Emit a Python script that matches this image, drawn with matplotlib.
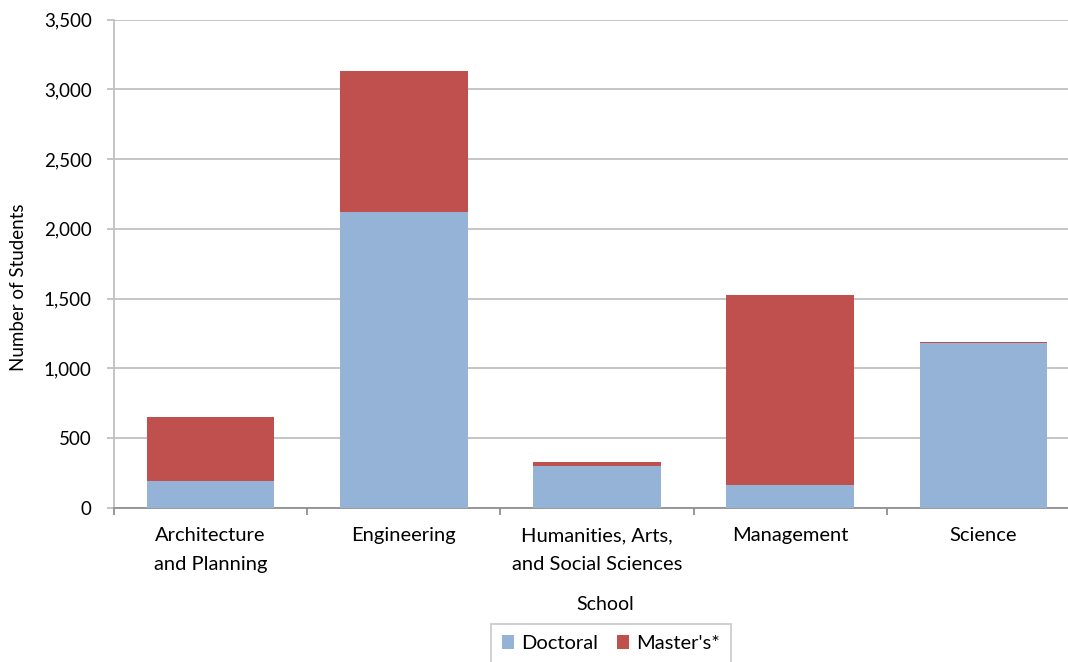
import matplotlib
matplotlib.use("Agg")
import matplotlib.pyplot as plt
from matplotlib.ticker import FuncFormatter, FixedLocator
from matplotlib.patches import Patch
import numpy as np

schools = ["Architecture\nand Planning", "Engineering", "Humanities, Arts,\nand Social Sciences", "Management", "Science"]
doctoral = [195, 2120, 303, 165, 1180]
masters = [457, 1010, 27, 1361, 12]
yticks = [0, 500, 1000, 1500, 2000, 2500, 3000, 3500]

plt.rcParams['font.family'] = ['Lato', 'DejaVu Sans']
W, H = 1068, 662
fig = plt.figure(figsize=(W/100, H/100), dpi=100)
ax = fig.add_axes([114/W, 1 - 508/H, (1080-114)/W, (508-19.5)/H])

x = np.arange(len(schools))
blue = "#95B3D7"
red = "#C0504D"
ax.bar(x, doctoral, width=0.66, color=blue, label="Doctoral", zorder=3)
ax.bar(x, masters, width=0.66, bottom=doctoral, color=red, label="Master's*", zorder=3)

ax.set_xlim(-0.5, len(schools) - 0.5)
ax.set_ylim(0, 3500)
ax.set_yticks(yticks)
ax.yaxis.set_major_formatter(FuncFormatter(lambda v, p: f"{int(v):,}"))
ax.grid(axis='y', color='#c0c0c0', linewidth=1.3, zorder=0)
ax.set_axisbelow(True)

ax.set_xticks(x)
ax.set_xticklabels(schools, fontsize=14.5, linespacing=1.8)
ax.tick_params(axis='x', which='major', length=0, pad=14)
ax.xaxis.set_minor_locator(FixedLocator(np.arange(-0.5, len(schools) + 0.5, 1.0)))
ax.tick_params(axis='x', which='minor', length=5, color='#909090', width=1.3)
ax.tick_params(axis='y', length=5, color='#c0c0c0', width=1.3, labelsize=13.5, pad=11)

for s in ['top', 'right']:
    ax.spines[s].set_visible(False)
ax.spines['left'].set_color('#c0c0c0')
ax.spines['left'].set_linewidth(1.3)
ax.spines['bottom'].set_color('#909090')
ax.spines['bottom'].set_linewidth(1.3)

fig.text(19/W, 1 - 287/H, "Number of Students", rotation=90, ha='center', va='center', fontsize=13.5)
fig.text(605/W, 1 - 604/H, "School", ha='center', va='center', fontsize=14)

handles = [Patch(facecolor=blue, label="Doctoral"), Patch(facecolor=red, label="Master's*")]
leg = fig.legend(handles=handles, loc='upper center', bbox_to_anchor=(611/W, 1 - 624/H), ncol=2,
                 fontsize=14.5, frameon=True, fancybox=False, edgecolor='#c0c0c0',
                 handlelength=0.62, handleheight=0.62, handletextpad=0.35, columnspacing=0.9,
                 borderpad=0.55, borderaxespad=0)
leg.get_frame().set_linewidth(1.3)

fig.savefig("out.png", dpi=100)
